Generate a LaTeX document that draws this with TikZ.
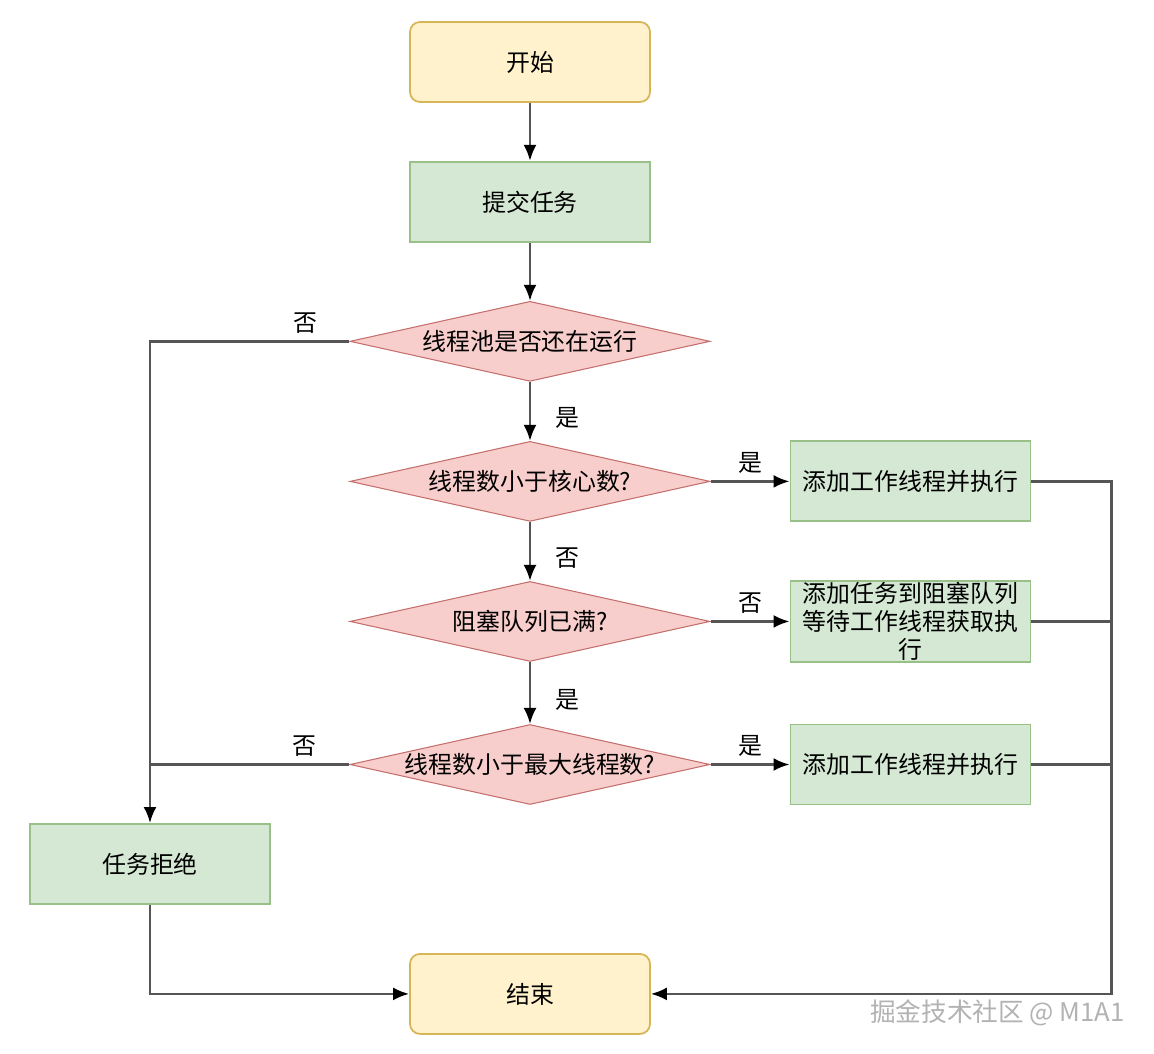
\documentclass[tikz,border=0pt]{standalone}
\usepackage{fontspec}
\setmainfont{Noto Sans CJK SC}
\usepackage{tikz}
\usetikzlibrary{positioning,shapes.geometric,arrows.meta}
\definecolor{termfill}{HTML}{FFF2CC}
\definecolor{termdraw}{HTML}{D6B656}
\definecolor{procfill}{HTML}{D5E8D4}
\definecolor{procdraw}{HTML}{9AC08A}
\definecolor{decfill}{HTML}{F8CECC}
\definecolor{decdraw}{HTML}{C46F6B}
\definecolor{wire}{HTML}{555555}
\tikzset{%
  terminal/.style={
    rectangle,
    rounded corners=2mm,
    draw=termdraw,
    fill=termfill,
    line width=1pt,
    minimum width=4.8cm,
    minimum height=1.6cm
  },
  process/.style={
    rectangle,
    draw=procdraw,
    fill=procfill,
    line width=1.1pt,
    minimum width=4.8cm,
    minimum height=1.6cm,
    inner sep=1pt,
    align=center
  },
  decision/.style={
    diamond,
    draw=decdraw,
    fill=decfill,
    line width=0.6pt,
    inner sep=0pt,
    shape aspect=4.5,
    minimum width=7.2cm,
    minimum height=1.6cm
  },
}

\begin{document}
\begin{tikzpicture}[auto,node distance=11.6mm,>={Latex[length=3.2mm,width=2.6mm,color=black]},font=\fontsize{13.6}{15.8}\selectfont]
        \tikzstyle{wire}=[draw=wire,line width=1.4pt]
        \tikzstyle{tag}=[font=\fontsize{13.6}{16}\selectfont,inner sep=4pt]
        \useasboundingbox (0,0) rectangle (23.08,-21.08);

        \node[terminal] (start) at (10.6,-1.24) {开始};
        \node[process,below=of start] (submit) {提交任务};
        \node[decision,below=of submit] (running) {线程池是否还在运行};
        \node[decision,below=11.8mm of running] (core) {线程数小于核心数?};
        \node[decision,below=11.8mm of core] (queue) {阻塞队列已满?};
        \node[decision,below=12.4mm of queue] (maxpool) {线程数小于最大线程数?};
        \node[process,right=1.58cm of core] (addcore) {添加工作线程并执行};
        \node[process,right=1.58cm of queue] (addqueue) {添加任务到阻塞队列\\等待工作线程获取执\\行};
        \node[process,right=1.58cm of maxpool] (addmax) {添加工作线程并执行};
        \node[process] (reject) at (3,-17.28) {任务拒绝};
        \node[terminal,below=2.96cm of maxpool] (end) {结束};
        \coordinate[right=1.6cm of addcore.east] (bus);

        \draw[wire,->] (start) -- (submit);
        \draw[wire,->] (submit) -- (running);
        \draw[wire,->] (running) -- node[tag,right,xshift=10pt,yshift=-4pt] {是} (core);
        \draw[wire,->] (running.west) -| node[tag,above,pos=0.11] {否} (reject.north);
        \draw[wire,->] (core) -- node[tag,above] {是} (addcore);
        \draw[wire,->] (core) -- node[tag,right,xshift=10pt,yshift=-4pt] {否} (queue);
        \draw[wire,->] (queue) -- node[tag,above] {否} (addqueue);
        \draw[wire,->] (queue) -- node[tag,right,xshift=10pt,yshift=-4pt] {是} (maxpool);
        \draw[wire,->] (maxpool) -- node[tag,above] {是} (addmax);
        \draw[wire] (maxpool.west) -- node[tag,above,pos=0.225] {否} (maxpool.west -| reject.north);
        \draw[wire,->] (reject.south) |- (end.west);
        \draw[wire,->] (addcore.east) -- (bus) |- (end.east);
        \draw[wire] (addqueue.east) -- (addqueue.east -| bus);
        \draw[wire] (addmax.east) -- (addmax.east -| bus);

        \node[anchor=east,text=gray!60,font=\fontsize{14.6}{18}\selectfont] (mark) at (22.62,-20.26) {掘金技术社区 @ M1A1};
    \end{tikzpicture}
\end{document}
